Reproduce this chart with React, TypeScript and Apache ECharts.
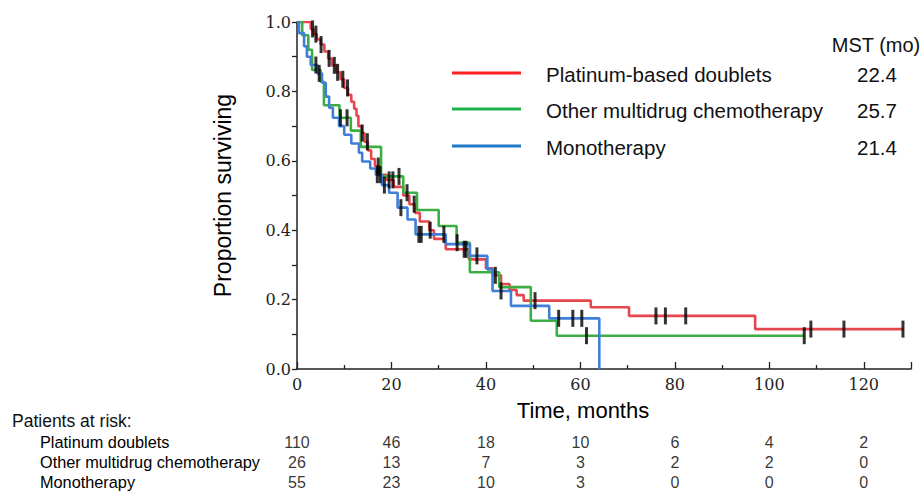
import React, { useEffect, useRef } from "react";
import * as echarts from "echarts";

// ---- Kaplan-Meier data ----
const platinumTimes = [0, 2.9, 3.5, 4.2, 5.0, 5.8, 6.6, 7.4, 8.3, 9.2, 10.0, 10.8, 11.5, 12.1, 12.6, 13.0, 13.7, 14.3, 15.0, 15.7, 16.5, 17.3, 19.0, 20.5, 22.5, 23.8, 25.0, 26.0, 28.0, 29.0, 31.5, 36.4, 40.0, 41.5, 43.2, 45.0, 46.5, 48.0, 62.2, 70.3, 97.0, 128.4];
const platinumSurv = [1.0, 0.98, 0.965, 0.95, 0.935, 0.915, 0.895, 0.875, 0.855, 0.835, 0.81, 0.79, 0.77, 0.75, 0.73, 0.70, 0.68, 0.655, 0.63, 0.605, 0.585, 0.56, 0.545, 0.525, 0.50, 0.475, 0.45, 0.425, 0.40, 0.375, 0.345, 0.316, 0.29, 0.27, 0.245, 0.228, 0.213, 0.197, 0.178, 0.153, 0.115, 0.115];
const platinumCensor = [3.3, 4.0, 5.1, 6.8, 7.9, 8.6, 9.7, 10.7, 13.8, 14.9, 17.2, 17.6, 19.5, 20.3, 24.8, 28.2, 35.4, 35.8, 42.0, 50.4, 76, 78, 82.3, 108.8, 115.8, 128.3];

const otherTimes = [0, 1.1, 2.4, 3.2, 5.0, 5.7, 9.0, 11.4, 13.5, 17.8, 22.5, 25.4, 30.0, 33.8, 36.6, 42.8, 49.5, 55.0, 107.4];
const otherSurv = [1.0, 0.962, 0.92, 0.862, 0.828, 0.76, 0.724, 0.687, 0.64, 0.555, 0.508, 0.458, 0.412, 0.364, 0.279, 0.236, 0.139, 0.096, 0.096];
const otherCensor = [9.2, 10.6, 21.6, 23.3, 33.9, 61.3, 107.4];

const monoTimes = [0, 0.4, 1.5, 2.1, 2.9, 4.3, 5.3, 6.1, 6.8, 7.6, 8.9, 10.0, 11.5, 13.1, 13.8, 15.5, 16.7, 18.0, 19.5, 21.3, 23.4, 25.1, 31.5, 36.6, 40.3, 41.4, 45.3, 53.4, 64.0];
const monoSurv = [1.0, 0.968, 0.93, 0.90, 0.876, 0.852, 0.825, 0.785, 0.753, 0.724, 0.70, 0.675, 0.65, 0.623, 0.598, 0.578, 0.56, 0.53, 0.508, 0.465, 0.431, 0.388, 0.36, 0.326, 0.287, 0.225, 0.182, 0.146, 0.0];
const monoCensor = [4.0, 4.7, 17.0, 18.5, 22.0, 25.8, 26.3, 31.1, 38.1, 43.2, 55.4, 58.4, 60.3];

// ---- legend / MST ----
const legendNames = ["Platinum-based doublets", "Other multidrug chemotherapy", "Monotherapy"];
const mstValues = ["22.4", "25.7", "21.4"];

// ---- patients at risk ----
const riskTimes = [0, 20, 40, 60, 80, 100, 120];
const riskRows = ["Platinum doublets", "Other multidrug chemotherapy", "Monotherapy"];
const riskPlatinum = [110, 46, 18, 10, 6, 4, 2];
const riskOther = [26, 13, 7, 3, 2, 2, 0];
const riskMono = [55, 23, 10, 3, 0, 0, 0];

const CURVE_COLORS = ["#E5474F", "#3DAE45", "#3F7FD8"];
const LEGEND_COLORS = ["#FF2020", "#1DB14B", "#1F78C8"];
const SANS = "Liberation Sans, Arial, sans-serif";
const SERIF = "DejaVu Serif, serif";

function pairs(t: number[], s: number[]) {
  return t.map((v, i) => [v, s[i]]);
}
function survAt(t: number[], s: number[], x: number) {
  let v = s[0];
  for (let i = 0; i < t.length; i++) {
    if (t[i] <= x) v = s[i];
  }
  return v;
}

export default function App() {
  const ref = useRef<HTMLDivElement>(null);
  useEffect(() => {
    if (!ref.current) return;
    const chart = echarts.init(ref.current, undefined, { renderer: "svg" });
    const groups = [
      { t: platinumTimes, s: platinumSurv, c: platinumCensor },
      { t: otherTimes, s: otherSurv, c: otherCensor },
      { t: monoTimes, s: monoSurv, c: monoCensor },
    ];
    const lineSeries = groups.map((g, i) => ({
      type: "line",
      name: legendNames[i],
      xAxisIndex: 0,
      yAxisIndex: 0,
      step: "end",
      symbol: "none",
      data: pairs(g.t, g.s),
      lineStyle: { color: CURVE_COLORS[i], width: 2.6 },
      itemStyle: { color: CURVE_COLORS[i] },
      z: 2,
    }));
    const censorSeries = groups.map((g) => ({
      type: "scatter",
      xAxisIndex: 0,
      yAxisIndex: 0,
      symbol: "rect",
      symbolSize: [3, 17],
      data: g.c.map((x) => [x, survAt(g.t, g.s, x)]),
      itemStyle: { color: "#000" },
      z: 3,
      silent: true,
    }));
    const riskData = [riskPlatinum, riskOther, riskMono];
    const riskSeries = riskData.map((row, r) => ({
      type: "scatter",
      xAxisIndex: 1,
      yAxisIndex: 1,
      symbolSize: 1,
      itemStyle: { color: "rgba(0,0,0,0)" },
      data: row.map((v, i) => ({ value: [riskTimes[i], r], label: { formatter: String(v) } })),
      label: {
        show: true,
        position: "inside",
        color: "#000",
        fontFamily: SANS,
        fontSize: 16,
      },
      silent: true,
    }));

    const axisLineStyle = { color: "#222", width: 1.5 };
    const graphic: any[] = [];
    const legendY = [74, 110, 147];
    legendNames.forEach((n, i) => {
      graphic.push({
        type: "line",
        shape: { x1: 452, y1: legendY[i] - 1, x2: 521, y2: legendY[i] - 1 },
        style: { stroke: LEGEND_COLORS[i], lineWidth: 3 },
      });
      graphic.push({
        type: "text",
        x: 546,
        y: legendY[i],
        style: { text: n, fontFamily: SANS, fontSize: 20.5, fill: "#111", align: "left", verticalAlign: "middle" },
      });
      graphic.push({
        type: "text",
        x: 877,
        y: legendY[i],
        style: { text: mstValues[i], fontFamily: SANS, fontSize: 20.5, fill: "#111", align: "center", verticalAlign: "middle" },
      });
    });
    graphic.push({
      type: "text",
      x: 876,
      y: 45,
      style: { text: "MST (mo)", fontFamily: SANS, fontSize: 20, fill: "#111", align: "center", verticalAlign: "middle" },
    });
    graphic.push({
      type: "text",
      x: 12,
      y: 421,
      style: { text: "Patients at risk:", fontFamily: SANS, fontSize: 17.5, fill: "#111", align: "left", verticalAlign: "middle" },
    });

    chart.setOption({
      animation: false,
      backgroundColor: "#fff",
      grid: [
        { left: 297, right: 12, top: 22, bottom: 123 },
        { left: 297, right: 12, top: 432, height: 60 },
      ],
      xAxis: [
        {
          type: "value",
          gridIndex: 0,
          min: 0,
          max: 130,
          interval: 20,
          axisLine: { show: true, onZero: false, lineStyle: axisLineStyle },
          axisTick: { show: true, inside: true, length: 7, lineStyle: { color: "#222", width: 1.3 } },
          minorTick: { show: true, splitNumber: 2, length: 4, lineStyle: { color: "#222", width: 1.3 } },
          splitLine: { show: false },
          axisLabel: {
            margin: 7,
            fontFamily: SERIF,
            fontSize: 16,
            color: "#222",
            formatter: (v: number) => (v > 120 ? "" : String(v)),
          },
          name: "Time, months",
          nameLocation: "middle",
          nameGap: 30,
          nameTextStyle: { fontFamily: SANS, fontSize: 22, color: "#000", padding: [0, 42, 0, 0] },
        },
        { type: "value", gridIndex: 1, min: 0, max: 130, show: false },
      ],
      yAxis: [
        {
          type: "value",
          gridIndex: 0,
          min: 0,
          max: 1,
          interval: 0.2,
          axisLine: { show: true, onZero: false, lineStyle: axisLineStyle },
          axisTick: { show: true, inside: false, length: 5, lineStyle: { color: "#222", width: 1.3 } },
          minorTick: { show: true, splitNumber: 2, length: 5, lineStyle: { color: "#222", width: 1.3 } },
          splitLine: { show: false },
          axisLabel: {
            margin: 6,
            fontFamily: SERIF,
            fontSize: 16,
            color: "#222",
            formatter: (v: number) => v.toFixed(1),
          },
          name: "Proportion surviving",
          nameLocation: "middle",
          nameGap: 63,
          nameTextStyle: { fontFamily: SANS, fontSize: 23, color: "#000" },
        },
        {
          type: "category",
          gridIndex: 1,
          data: riskRows,
          inverse: true,
          axisLine: { show: false },
          axisTick: { show: false },
          splitLine: { show: false },
          axisLabel: { interval: 0, hideOverlap: false, align: "left", margin: 257, fontFamily: SANS, fontSize: 16.3, color: "#000" },
        },
      ],
      graphic,
      series: [...lineSeries, ...censorSeries, ...riskSeries],
    });
    return () => chart.dispose();
  }, []);
  return (
    <div
      ref={ref}
      style={{ position: "fixed", left: 0, top: 0, width: 923, height: 492, background: "#fff" }}
    />
  );
}
